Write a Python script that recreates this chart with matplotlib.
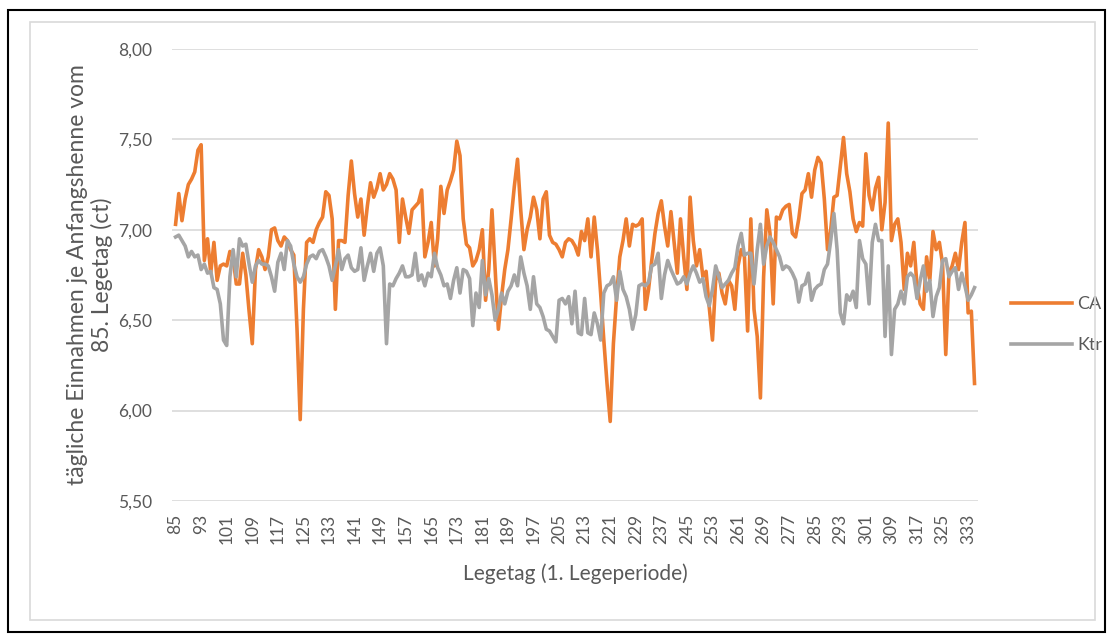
import numpy as np
import matplotlib
matplotlib.use("Agg")
import matplotlib.pyplot as plt
from matplotlib.patches import Rectangle
from matplotlib.ticker import FuncFormatter, MultipleLocator

plt.rcParams['font.family'] = ['Lato', 'DejaVu Sans']

# daily income per starting hen, laying day 85 .. 335
ca = [
    7.03, 7.20, 7.05, 7.17, 7.25, 7.28, 7.32, 7.44, 7.47, 6.83,   # 85
    6.95, 6.76, 6.93, 6.72, 6.80, 6.81, 6.80, 6.88, 6.85, 6.70,   # 95
    6.70, 6.87, 6.75, 6.55, 6.37, 6.78, 6.89, 6.85, 6.78, 6.85,   # 105
    7.00, 7.01, 6.94, 6.91, 6.96, 6.94, 6.89, 6.86, 6.45, 5.95,   # 115
    6.56, 6.93, 6.95, 6.93, 7.00, 7.04, 7.07, 7.21, 7.19, 7.06,   # 125
    6.56, 6.94, 6.94, 6.93, 7.19, 7.38, 7.20, 7.07, 7.17, 6.97,   # 135
    7.13, 7.26, 7.18, 7.23, 7.31, 7.22, 7.25, 7.31, 7.28, 7.22,   # 145
    6.93, 7.17, 7.07, 6.98, 7.11, 7.13, 7.15, 7.22, 6.85, 6.93,   # 155
    7.04, 6.80, 6.95, 7.24, 7.09, 7.22, 7.27, 7.33, 7.49, 7.41,   # 165
    7.06, 6.92, 6.90, 6.80, 6.83, 6.89, 7.00, 6.61, 6.78, 7.11,   # 175
    6.78, 6.45, 6.63, 6.78, 6.89, 7.06, 7.24, 7.39, 7.11, 6.89,   # 185
    7.00, 7.07, 7.18, 7.11, 6.95, 7.17, 7.21, 6.97, 6.93, 6.92,   # 195
    6.89, 6.85, 6.93, 6.95, 6.94, 6.91, 6.86, 6.99, 6.94, 7.06,   # 205
    6.85, 7.07, 6.89, 6.65, 6.39, 6.15, 5.94, 6.37, 6.63, 6.85,   # 215
    6.94, 7.06, 6.91, 7.03, 7.02, 7.03, 7.06, 6.56, 6.67, 6.83,   # 225
    6.98, 7.09, 7.16, 7.02, 6.91, 7.10, 6.93, 6.76, 7.06, 6.85,   # 235
    6.67, 7.18, 6.94, 6.80, 6.89, 6.74, 6.77, 6.57, 6.39, 6.72,   # 245
    6.76, 6.65, 6.59, 6.72, 6.69, 6.56, 6.80, 6.89, 6.85, 6.44,   # 255
    7.06, 6.56, 6.41, 6.07, 6.74, 7.11, 6.98, 6.59, 7.07, 7.06,   # 265
    7.11, 7.13, 7.14, 6.98, 6.96, 7.06, 7.20, 7.22, 7.31, 7.18,   # 275
    7.33, 7.40, 7.37, 7.17, 6.89, 7.00, 7.18, 7.19, 7.35, 7.51,   # 285
    7.31, 7.21, 7.06, 6.99, 7.04, 7.02, 7.42, 7.19, 7.11, 7.23,   # 295
    7.29, 7.00, 7.15, 7.59, 6.94, 7.03, 7.06, 6.93, 6.67, 6.87,   # 305
    6.80, 6.93, 6.69, 6.59, 6.56, 6.85, 6.72, 6.99, 6.89, 6.93,   # 315
    6.81, 6.31, 6.76, 6.80, 6.87, 6.78, 6.93, 7.04, 6.54, 6.55,   # 325
    6.15,                                                         # 335
]

ktr = [
    6.96, 6.97, 6.94, 6.91, 6.85, 6.88, 6.85, 6.86, 6.78, 6.81,   # 85
    6.76, 6.77, 6.68, 6.67, 6.59, 6.39, 6.36, 6.74, 6.89, 6.74,   # 95
    6.95, 6.91, 6.92, 6.81, 6.71, 6.80, 6.83, 6.81, 6.81, 6.80,   # 105
    6.74, 6.66, 6.82, 6.87, 6.78, 6.94, 6.91, 6.81, 6.74, 6.71,   # 115
    6.74, 6.81, 6.85, 6.86, 6.84, 6.88, 6.89, 6.85, 6.80, 6.72,   # 125
    6.80, 6.89, 6.78, 6.84, 6.86, 6.79, 6.77, 6.78, 6.90, 6.72,   # 135
    6.80, 6.87, 6.77, 6.87, 6.90, 6.80, 6.37, 6.70, 6.69, 6.73,   # 145
    6.76, 6.80, 6.74, 6.74, 6.75, 6.87, 6.72, 6.75, 6.69, 6.76,   # 155
    6.74, 6.87, 6.79, 6.75, 6.69, 6.70, 6.62, 6.72, 6.79, 6.65,   # 165
    6.78, 6.77, 6.73, 6.47, 6.65, 6.57, 6.83, 6.64, 6.73, 6.64,   # 175
    6.50, 6.56, 6.65, 6.59, 6.66, 6.69, 6.75, 6.69, 6.85, 6.76,   # 185
    6.69, 6.56, 6.74, 6.59, 6.57, 6.52, 6.45, 6.44, 6.41, 6.38,   # 195
    6.61, 6.62, 6.59, 6.63, 6.48, 6.66, 6.43, 6.42, 6.62, 6.43,   # 205
    6.42, 6.54, 6.48, 6.39, 6.65, 6.69, 6.70, 6.74, 6.61, 6.77,   # 215
    6.67, 6.63, 6.56, 6.45, 6.53, 6.69, 6.70, 6.69, 6.71, 6.80,   # 225
    6.81, 6.87, 6.62, 6.75, 6.83, 6.78, 6.74, 6.70, 6.71, 6.74,   # 235
    6.70, 6.76, 6.80, 6.76, 6.71, 6.73, 6.63, 6.58, 6.67, 6.80,   # 245
    6.74, 6.68, 6.70, 6.72, 6.76, 6.79, 6.91, 6.98, 6.86, 6.87,   # 255
    6.87, 6.70, 6.89, 7.03, 6.81, 6.91, 6.96, 6.93, 6.89, 6.85,   # 265
    6.78, 6.80, 6.79, 6.76, 6.72, 6.60, 6.69, 6.70, 6.76, 6.61,   # 275
    6.67, 6.69, 6.70, 6.78, 6.81, 6.94, 7.09, 6.89, 6.54, 6.48,   # 285
    6.64, 6.61, 6.66, 6.57, 6.94, 6.84, 6.81, 6.59, 6.93, 7.03,   # 295
    6.94, 6.94, 6.41, 6.80, 6.31, 6.56, 6.59, 6.66, 6.59, 6.74,   # 305
    6.76, 6.74, 6.62, 6.72, 6.80, 6.66, 6.72, 6.52, 6.63, 6.68,   # 315
    6.83, 6.84, 6.74, 6.77, 6.79, 6.67, 6.76, 6.69, 6.61, 6.64,   # 325
    6.68,                                                         # 335
]

days = np.arange(85, 85 + len(ca))
tick_days = np.arange(85, 336, 8)

grey_txt = '#595959'

fig = plt.figure(figsize=(11.08, 6.35), dpi=100)
ax = fig.add_axes([0.155, 0.211, 0.728, 0.712])

ax.plot(days, ca, color='#ED7D31', lw=2.6, label='CA', solid_joinstyle='round')
ax.plot(days, ktr, color='#A5A5A5', lw=2.6, label='Ktr', solid_joinstyle='round')

ax.set_xlim(83.8, 336.2)
ax.set_ylim(5.5, 8.0)
ax.yaxis.set_major_locator(MultipleLocator(0.5))
ax.yaxis.set_major_formatter(FuncFormatter(lambda v, p: f'{v:.2f}'.replace('.', ',')))
ax.set_xticks(tick_days)
ax.set_xticklabels([str(d) for d in tick_days], rotation=90)

ax.grid(axis='y', color='#D9D9D9', lw=1.2)
ax.set_axisbelow(True)
for s in ax.spines.values():
    s.set_visible(False)
ax.tick_params(length=0, colors=grey_txt, labelsize=12.5)
ax.tick_params(axis='y', labelsize=12.5, pad=14)
ax.tick_params(axis='x', pad=9)

ax.set_xlabel('Legetag (1. Legeperiode)', fontsize=15, color=grey_txt, labelpad=14)
ax.set_ylabel('tägliche Einnahmen je Anfangshenne vom\n85. Legetag (ct)',
              fontsize=16.5, color=grey_txt, labelpad=4, linespacing=1.15)

ax.legend(loc='center left', bbox_to_anchor=(1.02, 0.39), frameon=False,
          fontsize=13, labelcolor=grey_txt, handlelength=3.4, handletextpad=0.3,
          labelspacing=1.4)

# chart frame and outer border
fig.patches.append(Rectangle((30 / 1108, 1 - 620 / 635), 1065 / 1108, 598 / 635,
                             transform=fig.transFigure, fill=False,
                             edgecolor='#D9D9D9', lw=1.2))
fig.patches.append(Rectangle((8 / 1108, 1 - 632 / 635), 1097 / 1108, 622 / 635,
                             transform=fig.transFigure, fill=False,
                             edgecolor='black', lw=1.5))

fig.savefig('out.png', dpi=100)
